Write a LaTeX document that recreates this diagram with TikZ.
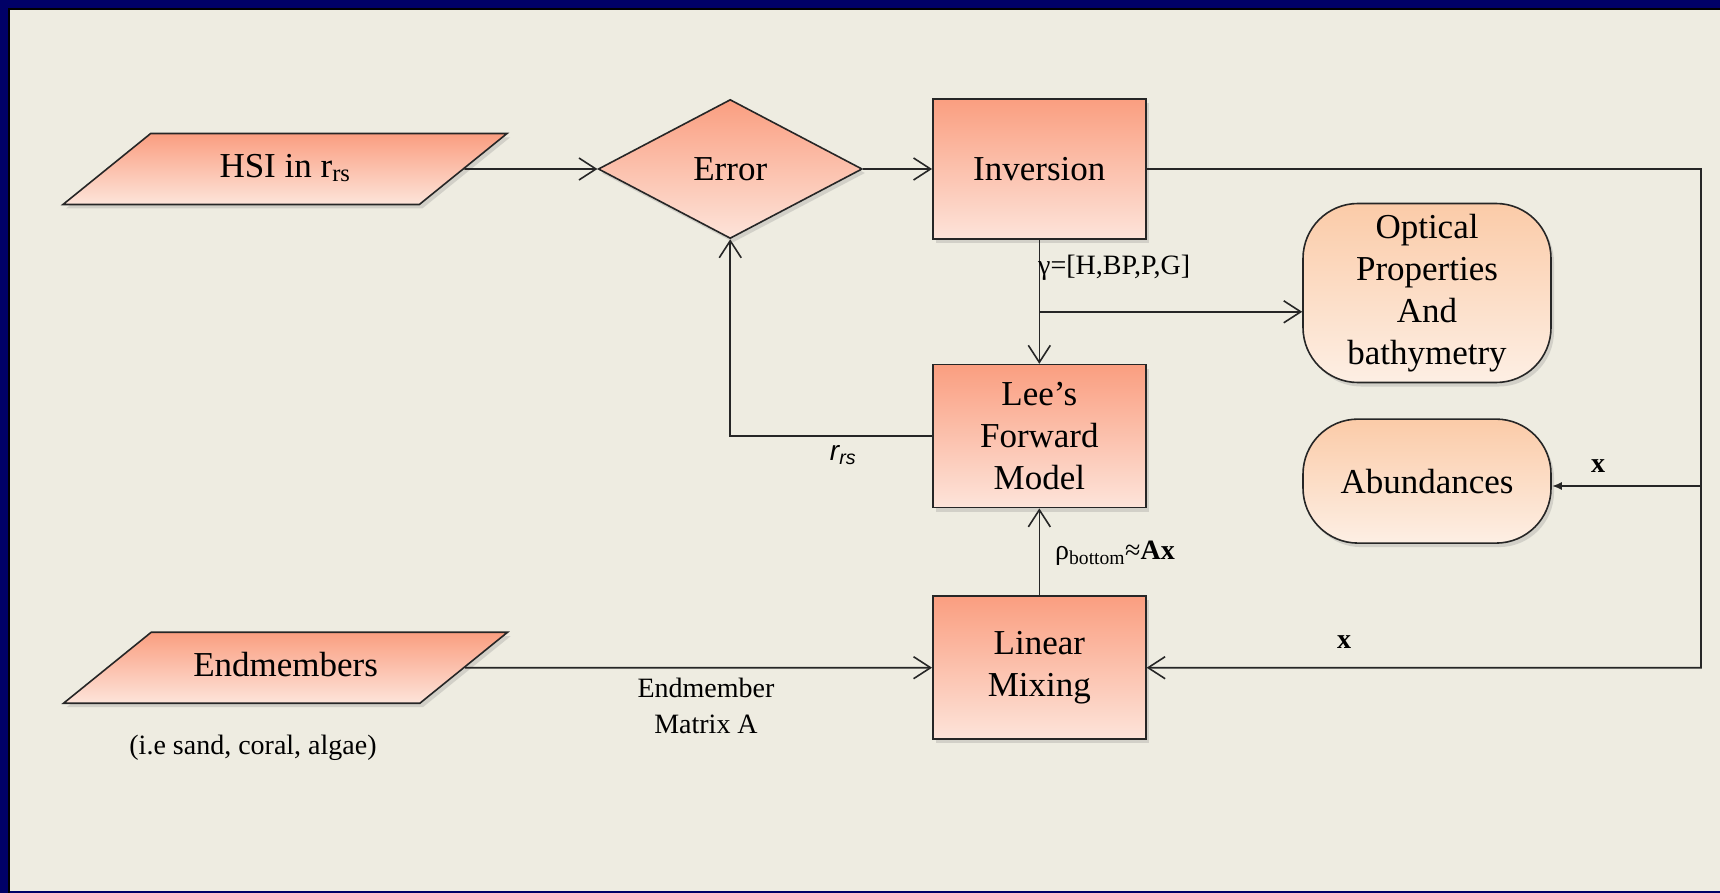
\documentclass[tikz,border=0pt]{standalone}
\usepackage{xcolor}
\usepackage{fontspec}
\setmainfont{Liberation Serif}
\setsansfont{Liberation Sans}
\usepackage{tikz}
\usetikzlibrary{arrows.meta,positioning,shapes.geometric,shadows}
\definecolor{framec}{RGB}{0,0,102}
\definecolor{tanc}{RGB}{238,236,225}
\definecolor{salmtop}{RGB}{250,158,128}
\definecolor{salmbot}{RGB}{253,228,218}
\definecolor{peachtop}{RGB}{251,203,168}
\definecolor{peachbot}{RGB}{253,239,228}
\tikzset{
  box/.style   = {rectangle, draw=black!85, line width=1.6pt,
                  top color=salmtop, bottom color=salmbot, align=center,
                  minimum width=213pt, minimum height=143pt, inner sep=4pt,
                  font=\fontsize{35}{42}\selectfont,
                  drop shadow={shadow xshift=3pt, shadow yshift=-4pt, opacity=0.25}},
  prl/.style   = {box, trapezium, trapezium left angle=39, trapezium right angle=141,
                  trapezium stretches body=true, minimum width=444pt,
                  minimum height=70pt, inner ysep=19pt, text height=25pt, text depth=8pt},
  dia/.style   = {box, diamond, aspect=1.9, minimum width=264pt, minimum height=139pt},
  rnd/.style   = {box, rounded corners=55pt, top color=peachtop, bottom color=peachbot,
                  minimum width=248pt},
  lbl/.style   = {inner sep=2pt, align=center, font=\fontsize{28}{36}\selectfont},
  fl/.style    = {-{Straight Barb[length=17pt,width=22pt]}, line width=1.6pt, draw=black!85},
  sfl/.style   = {-{Latex[length=10pt,width=8pt]}, line width=2pt, draw=black!85},
}

\begin{document}
\begin{tikzpicture}[x=1pt, y=-1pt]
    \useasboundingbox (0,0) rectangle (1720,893);
    \fill[framec] (0,0) rectangle (1720,893);
    \fill[tanc] (10,10) rectangle (1720,891);
    \draw[black, line width=2pt] (9,893) -- (9,9) -- (1720,9);

    \node[prl] (hsi) at (285,169) {HSI in r\textsubscript{rs}};
    \node[dia, right=133pt of hsi] (err) {Error};
    \node[box, right=69pt of err, minimum height=140pt] (inv) {Inversion};
    \node[box, below=124pt of inv] (lee) {Lee’s\\Forward\\Model};
    \node[box, below=87pt of lee] (lin) {Linear\\Mixing};
    \node[prl, left=467pt of lin] (end) {Endmembers};
    \node[rnd, minimum height=179pt] (opt) at (1427,293) {Optical\\Properties\\And\\bathymetry};
    \node[rnd, below=35pt of opt, minimum height=124pt] (abd) {Abundances};

    \coordinate[below=72pt of inv] (br);
    \coordinate (rc) at (1701,169);
    \coordinate (ab) at (1701,486);

    \draw[fl] (hsi) -- (err);
    \draw[fl] (err) -- (inv);
    \draw[fl] (inv) -- (lee);
    \draw[fl] (br) -- (br -| opt.west);
    \draw[fl] (lee.west) -| (err.south);
    \draw[fl] (lin) -- (lee);
    \draw[fl] (end) -- (lin);
    \draw[fl] (inv.east) -- (rc) |- (lin.east);
    \draw[sfl] (ab) -- (ab -| abd.east);

    \node[lbl, anchor=west] (gam) at (1036,268) {γ=[H,BP,P,G]};
    \node[lbl] (rrs) at (843,455) {\sffamily\itshape r\textsubscript{rs}};
    \node[lbl] (rho) at (1115,553) {ρ\textsubscript{bottom}≈\textbf{Ax}};
    \node[lbl] (xl) at (1344,642) {\textbf{x}};
    \node[lbl] (xu) at (1598,466) {\textbf{x}};
    \node[lbl] (mat) at (706,706) {Endmember\\Matrix A};
    \node[lbl] (egs) at (253,748) {(i.e sand, coral, algae)};
  \end{tikzpicture}
\end{document}
